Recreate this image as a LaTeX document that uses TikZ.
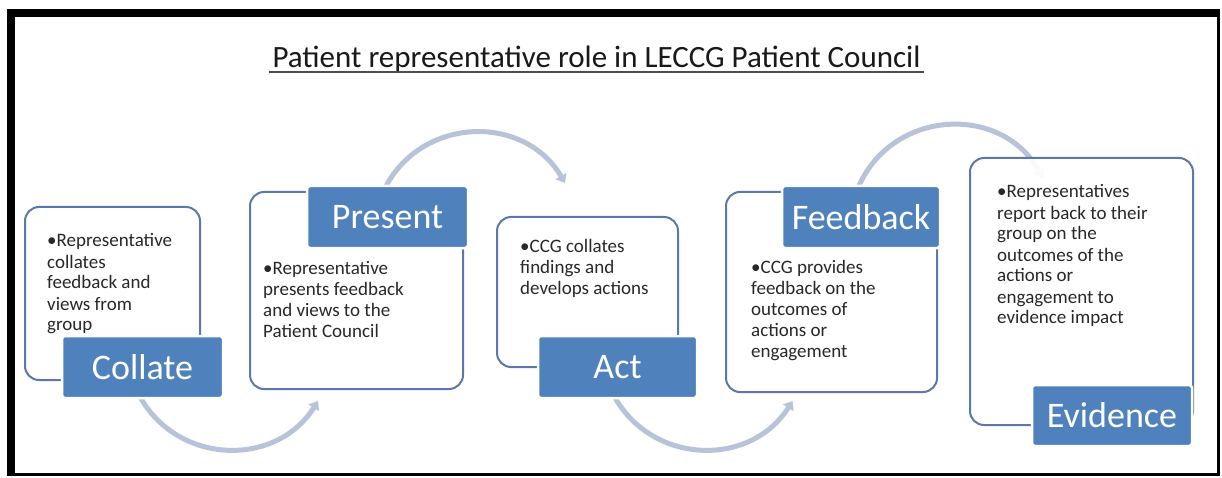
\documentclass[tikz,border=0pt]{standalone}
\usepackage{fontspec}
\setmainfont{Carlito}
\usetikzlibrary{arrows.meta}
\definecolor{lblue}{RGB}{79,129,189}
\definecolor{oblue}{RGB}{92,120,170}
\definecolor{arcc}{RGB}{184,194,217}
\definecolor{txt}{RGB}{40,40,40}
\tikzset{
  outline/.style={draw=oblue, line width=2pt, rounded corners=14pt, fill=white, inner sep=0pt},
  label/.style={fill=lblue, draw=white, line width=2.5pt, rounded corners=3pt, text=white,
    font=\fontsize{36}{40}\selectfont, inner sep=0pt},
  body/.style={anchor=base west, inner sep=0pt, text=txt, font=\fontsize{19}{21}\selectfont},
  arcline/.style={draw=arcc, line width=5pt, -{Triangle[width=12pt,length=8pt]}},
  frame/.style={fill=black}
}
\begin{document}
\begin{tikzpicture}[x=1pt,y=-1pt]
\useasboundingbox (0,0) rectangle (1222,478);
\fill[white] (0,0) rectangle (1222,478);
% frame
\fill[frame] (7,9) rectangle (15,475.5);
\fill[frame] (7,9) rectangle (1219.5,17);
\fill[frame] (1217,9) rectangle (1219.5,475.5);
\fill[frame] (7,473) rectangle (1219.5,475.5);

% title
\node (title) [anchor=base, font=\fontsize{31}{36}\selectfont, text=black!90] at (596.5,68)
  {Patient representative role in LECCG Patient Council};
\draw[line width=1.6pt, black!70] ([yshift=-4pt]title.base west) -- ([yshift=-4pt]title.base east);

% arcs
\coordinate (a1s) at (138.5,394); \coordinate (a1e) at (318,401);
\coordinate (a2s) at (385.5,187); \coordinate (a2e) at (565,183);
\coordinate (a3s) at (613,394);   \coordinate (a3e) at (792.5,401);
\coordinate (a4s) at (858,188);   \coordinate (a4e) at (1043,178);
\draw[arcline] (a1s) .. controls (175.6,465) and (275.6,468.4) .. (a1e);
\draw[arcline] (a2s) .. controls (423,116) and (524.4,113.9) .. (a2e);
\draw[arcline] (a3s) .. controls (650.1,465) and (750.1,468.4) .. (a3e);
\draw[arcline] (a4s) .. controls (891.3,109) and (1001.4,103) .. (a4e);

% outline boxes
\node (collateB)  [outline, minimum width=175pt, minimum height=173pt] at (112.5,293.5) {};
\node (presentB)  [outline, minimum width=213pt, minimum height=197pt] at (356.5,290.5) {};
\node (actB)      [outline, minimum width=181pt, minimum height=150pt] at (587.5,292) {};
\node (feedbackB) [outline, minimum width=211pt, minimum height=200pt] at (831.5,292) {};
\node (evidenceB) [outline, fill opacity=0.93, minimum width=223pt, minimum height=267pt] at (1081.5,291.5) {};

% labels
\node (collateL)  [label, minimum width=161pt, minimum height=62pt] at (142.5,367) {Collate};
\node (presentL)  [label, minimum width=161pt, minimum height=62pt] at (387.5,217) {Present};
\node (actL)      [label, minimum width=159pt, minimum height=62pt] at (617.5,367) {Act};
\node (feedbackL) [label, minimum width=158pt, minimum height=62pt] at (861,217) {Feedback};
\node (evidenceL) [label, minimum width=160pt, minimum height=61pt] at (1112,415.5) {Evidence};

% body texts
\node (collateT) [body] at (47,247) {\parbox[t]{160pt}{\raggedright\hangindent=7pt\hangafter=1
  •Representative\\collates\\feedback and\\views from\\group}};
\node (presentT) [body] at (263,274) {\parbox[t]{200pt}{\raggedright
  •Representative\\presents feedback\\and views to the\\Patient Council}};
\node (actT) [body] at (520,252) {\parbox[t]{170pt}{\raggedright\hangindent=6pt\hangafter=1
  •CCG collates\\findings and\\develops actions}};
\node (feedbackT) [body] at (751,273) {\parbox[t]{190pt}{\raggedright\hangindent=6pt\hangafter=1
  •CCG provides\\feedback on the\\outcomes of\\actions or\\engagement}};
\node (evidenceT) [body] at (997,198) {\parbox[t]{190pt}{\raggedright\hangindent=6pt\hangafter=1
  •Representatives\\report back to their\\group on the\\outcomes of the\\actions or\\engagement to\\evidence impact}};
\end{tikzpicture}
\end{document}
